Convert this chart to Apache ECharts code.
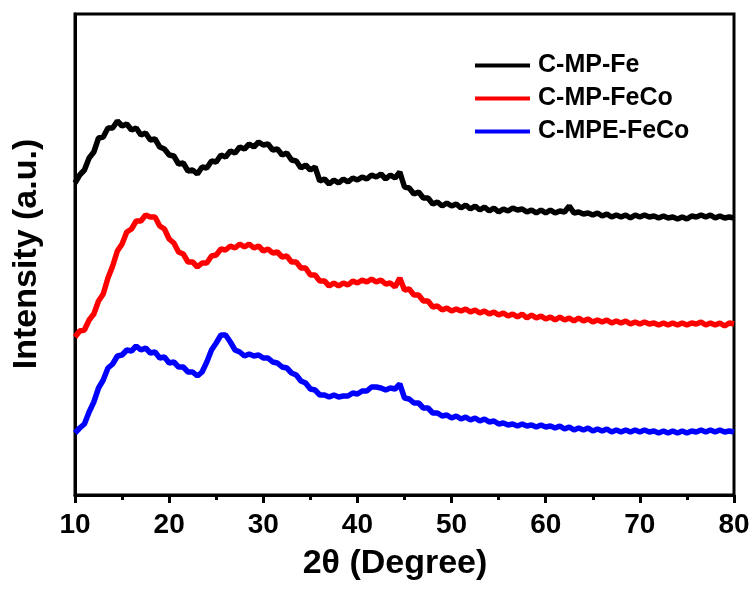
<!DOCTYPE html>
<html>
<head>
<meta charset="utf-8">
<script src="https://cdn.jsdelivr.net/npm/echarts@6/dist/echarts.min.js"></script>
<style>
html,body{margin:0;padding:0;background:#fff;}
#chart{width:755px;height:592px;}
</style>
</head>
<body>
<div id="chart"></div>
<script>
// 2θ sampling grid: start angle and step (degrees)
const thetaStart = 10;
const thetaStep = 0.5;
const xTicks = [10, 20, 30, 40, 50, 60, 70, 80];
const seriesNames = ['C-MP-Fe', 'C-MP-FeCo', 'C-MPE-FeCo'];
const seriesColors = ['#000000', '#ff0000', '#0000ff'];

// Intensities (a.u., stacked offsets as plotted), one value per 0.5° from 10° to 80°
const intensityFe = [
  317,325,330,342,348,362,363,372,372,379,374,376,370,372,365,367,360,361,353,351,
  345,344,336,337,329,330,326,333,332,339,338,345,343,349,347,353,351,356,353,358,
  355,356,350,351,345,347,340,339,332,335,330,333,319,321,316,320,317,321,318,322,
  320,323,321,325,323,326,321,325,322,328,313,312,306,308,302,302,296,298,294,297,
  294,296,292,295,291,294,290,293,289,292,288,291,289,292,290,291,288,290,287,290,
  287,290,287,289,288,294,287,288,286,287,285,287,284,286,283,285,283,285,282,285,
  283,285,283,284,282,284,282,283,281,283,281,284,283,285,283,285,282,284,282,283,
  282
];
const intensityFeCo = [
  163,169,170,180,186,199,206,222,234,249,256,268,271,279,279,285,283,283,274,271,
  261,257,248,246,238,238,233,237,237,244,245,251,250,254,252,256,253,256,252,254,
  249,251,247,248,243,244,238,238,232,232,225,225,219,219,214,217,214,217,215,219,
  217,220,218,221,218,220,216,217,213,222,210,211,205,205,199,199,193,194,190,192,
  189,191,189,191,188,190,187,189,186,188,185,187,184,186,183,186,182,185,182,184,
  181,183,180,183,180,182,179,182,179,181,178,180,178,180,177,179,177,179,176,178,
  176,178,176,177,175,177,175,177,175,177,175,177,176,178,175,177,175,177,174,177,
  176
];
const intensityMPEFeCo = [
  67,72,76,88,98,112,120,132,136,144,145,150,149,154,150,152,147,148,142,143,
  137,138,133,133,128,128,124,128,138,150,157,165,165,158,150,148,144,146,144,145,
  142,142,138,137,133,132,127,125,119,117,111,110,105,105,103,105,103,104,104,107,
  106,109,109,113,113,112,110,112,111,116,102,101,97,97,92,92,87,87,84,85,
  82,84,81,83,80,82,79,81,78,79,76,77,75,76,74,76,74,75,73,75,
  73,74,72,74,71,73,70,72,70,72,69,71,69,71,68,70,68,70,68,70,
  68,70,68,69,67,69,67,69,67,69,67,69,68,70,68,70,68,70,68,69,
  68
];

function toPairs(vals) {
  return vals.map((v, i) => [thetaStart + i * thetaStep, v]);
}

const FONT = '"Liberation Sans", Arial, sans-serif';
const chart = echarts.init(document.getElementById('chart'), null, {renderer: 'canvas'});

const allSeries = [intensityFe, intensityFeCo, intensityMPEFeCo].map((vals, k) => ({
  name: seriesNames[k],
  type: 'line',
  data: toPairs(vals),
  showSymbol: false,
  symbol: 'none',
  smooth: false,
  lineStyle: {color: seriesColors[k], width: 5.5},
  itemStyle: {color: seriesColors[k]},
  animation: false,
  z: 3 - k
}));

chart.setOption({
  backgroundColor: '#ffffff',
  animation: false,
  grid: {
    left: 75, right: 21, top: 14, bottom: 97,
    show: true, borderColor: '#000', borderWidth: 3, backgroundColor: 'transparent'
  },
  legend: {
    orient: 'vertical',
    left: 475,
    top: 53,
    padding: 0,
    itemWidth: 55,
    itemHeight: 4,
    itemGap: 8,
    icon: 'rect',
    data: seriesNames,
    textStyle: {fontFamily: FONT, fontWeight: 'bold', fontSize: 25, color: '#000', lineHeight: 24, padding: [0, 0, 0, 3]}
  },
  xAxis: {
    type: 'value',
    min: xTicks[0],
    max: xTicks[xTicks.length - 1],
    interval: 10,
    axisLine: {show: true, onZero: false, lineStyle: {color: '#000', width: 3}},
    axisTick: {show: true, inside: false, length: 8, lineStyle: {color: '#000', width: 3}},
    minorTick: {show: true, splitNumber: 2, length: 5, lineStyle: {color: '#000', width: 3}},
    splitLine: {show: false},
    minorSplitLine: {show: false},
    axisLabel: {
      margin: 16,
      fontFamily: FONT, fontWeight: 'bold', fontSize: 28, color: '#000',
      formatter: v => String(v)
    }
  },
  yAxis: {
    type: 'value',
    min: 5,
    max: 486,
    axisLine: {show: true, lineStyle: {color: '#000', width: 3}},
    axisTick: {show: false},
    axisLabel: {show: false},
    splitLine: {show: false}
  },
  graphic: [
    {
      type: 'text', x: 395, y: 564,
      style: {text: '2θ (Degree)', font: 'bold 34px ' + FONT, fill: '#000', textAlign: 'center', textVerticalAlign: 'middle'}
    },
    {
      type: 'text', x: 27, y: 254, rotation: Math.PI / 2,
      style: {text: 'Intensity (a.u.)', font: 'bold 34px ' + FONT, fill: '#000', textAlign: 'center', textVerticalAlign: 'middle'}
    }
  ],
  series: allSeries
});
</script>
</body>
</html>
